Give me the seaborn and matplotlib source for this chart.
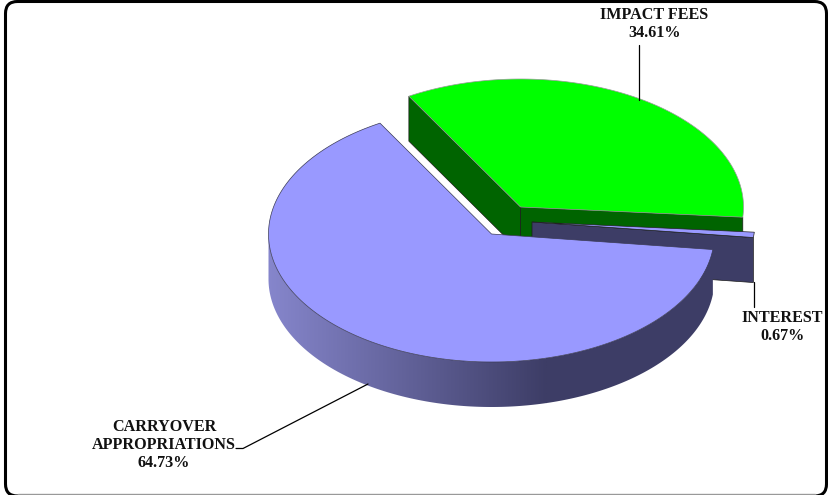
import numpy as np
import seaborn as sns
import matplotlib
matplotlib.use('Agg')
import matplotlib.pyplot as plt
from matplotlib.patches import FancyBboxPatch, Polygon

# values
labels = ['CARRYOVER\nAPPROPRIATIONS', 'INTEREST', 'IMPACT FEES']
shares = [64.73, 0.67, 34.61]
top_colors = ['#9999ff', '#9999ff', '#00ff00']
side_colors = ['#3d3d66', '#3d3d66', '#006400']

# slice layout, in pixels of the picture
centers = [(491.5, 234), (532, 222), (520.5, 207)]
RX, RY, DEPTH = 223, 128, 45
START = 120

sns.set_theme(style='white')
plt.rcParams['font.family'] = ['Liberation Serif', 'DejaVu Serif']

fig = plt.figure(figsize=(8.29, 4.95), dpi=100)
ax = fig.add_axes([0, 0, 1, 1])

# outer frame
ax.add_patch(FancyBboxPatch((5.5, 1.5), 821, 494.5, boxstyle='round,pad=0,rounding_size=12',
                            fc='white', ec='black', lw=2.2, zorder=0))
ax.plot([18, 815], [494.3, 494.3], color='#999999', lw=1.0, zorder=1)


def rim(c, deg):
    t = np.radians(deg)
    return c[0] + RX * np.cos(t), c[1] - RY * np.sin(t)


def wedge(c, a0, a1):
    t = np.linspace(a0, a1, 200)
    x, y = rim(c, t)
    return np.r_[c[0], x], np.r_[c[1], y]


def cut_face(c, deg, color, z):
    x, y = rim(c, deg)
    ax.fill([c[0], x, x, c[0]], [c[1], y, y + DEPTH, c[1] + DEPTH],
            color=color, ec='#1a1a1a', lw=0.5, zorder=z)


edges = START + np.cumsum([0] + [s * 3.6 for s in shares])

# impact fees, at the back
a0, a1 = edges[2], edges[3]
cut_face(centers[2], a1, side_colors[2], 2)
cut_face(centers[2], a0, side_colors[2], 2)
x, y = wedge(centers[2], a0, a1)
ax.fill(x, y, color=top_colors[2], ec='#999999', lw=0.5, zorder=3)

# interest sliver
a0, a1 = edges[1], edges[2]
cut_face(centers[1], a0, side_colors[1], 4)
x, y = wedge(centers[1], a0, a1)
ax.fill(x, y, color=top_colors[1], ec='#222222', lw=0.5, zorder=5)

# carryover, rim shaded from left to right
a0, a1 = edges[0], edges[1]
c = centers[0]
t = np.linspace(180, a1, 300)
xr, yr = rim(c, t)
shade = sns.blend_palette(['#8686cc', '#3d3d66'], 256, as_cmap=True)
band = Polygon(np.c_[np.r_[xr, xr[::-1]], np.r_[yr, yr[::-1] + DEPTH]], fc='none', ec='none', zorder=6)
ax.add_patch(band)
grad = ax.imshow(np.linspace(0, 1, 256)[None, :], cmap=shade, aspect='auto',
                 extent=(268, 547, 420, 200), zorder=6, interpolation='bilinear')
grad.set_clip_path(band)
# dark part of the rim, right of the shading
ax.fill(np.r_[xr[xr >= 546], xr[xr >= 546][::-1]],
        np.r_[yr[xr >= 546], yr[xr >= 546][::-1] + DEPTH], color=side_colors[0], lw=0, zorder=6)
x, y = wedge(c, a0, a1)
ax.fill(x, y, color=top_colors[0], ec='#3a3a55', lw=0.5, zorder=7)

# leader lines
ax.plot([368, 243, 236], [384, 448.5, 448.5], color='black', lw=0.9, zorder=8)
ax.plot([639.5, 639.5], [45, 100], color='black', lw=0.9, zorder=8)
ax.plot([754.5, 754.5], [282, 307], color='black', lw=0.9, zorder=8)

# labels
font = dict(fontsize=11.6, fontweight='bold', color='#111111', ha='center', va='center',
            linespacing=1.2, zorder=9)
ax.text(164, 445, f'{labels[0]}\n{shares[0]:.2f}%', **font)
ax.text(782.5, 327, f'{labels[1]}\n{shares[1]:.2f}%', **font)
ax.text(654.5, 24, f'{labels[2]}\n{shares[2]:.2f}%', **font)

ax.set_xlim(0, 829)
ax.set_ylim(495, 0)
ax.axis('off')

fig.savefig('out.png', dpi=100)
